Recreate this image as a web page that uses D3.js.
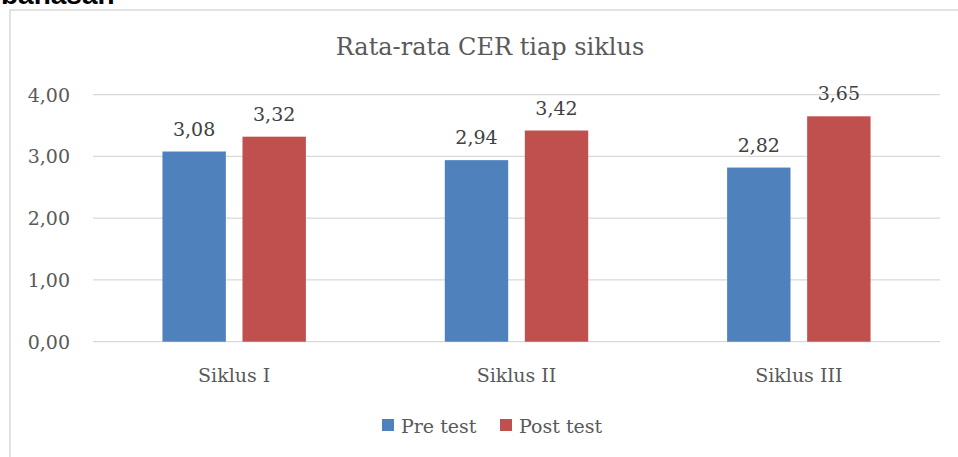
<!DOCTYPE html>
<html>
<head>
<meta charset="utf-8">
<script src="https://cdn.jsdelivr.net/npm/d3@7"></script>
<style>
  body { margin: 0; background: #fff; }
  svg { display: block; }
</style>
</head>
<body>
<div id="chart"></div>
<script>
// datos del grafico
var siklus = ["Siklus I", "Siklus II", "Siklus III"];
var seri = ["Pre test", "Post test"];
var preTest = [3.08, 2.94, 2.82];
var postTest = [3.32, 3.42, 3.65];
var yTicks = [0, 1, 2, 3, 4];
var warna = ["#4f81bd", "#c0504d"];

var W = 958, H = 457;
var plot = { left: 93, right: 940, top: 94.7, bottom: 341.7 };

var svg = d3.select("#chart").append("svg")
    .attr("width", W)
    .attr("height", H);

// texto cortado arriba
svg.append("text")
    .attr("x", 1)
    .attr("y", 4)
    .style("font-family", "Liberation Sans, Arial, sans-serif")
    .style("font-weight", "bold")
    .style("font-size", "28px")
    .attr("fill", "#000")
    .text("bahasan");

// borde del area del grafico
svg.append("path")
    .attr("d", "M10," + (H + 5) + "V10H" + (W + 5))
    .attr("fill", "none")
    .attr("stroke", "#d9d9d9")
    .attr("stroke-width", 1.5);

var y = d3.scaleLinear().domain([0, 4]).range([plot.bottom, plot.top]);

var x0 = d3.scaleBand()
    .domain(siklus)
    .range([plot.left, plot.right])
    .paddingInner(0.492)
    .paddingOuter(0.246);

var x1 = d3.scaleBand()
    .domain(seri)
    .range([0, x0.bandwidth()])
    .paddingInner(0.208);

var fmt = function(v) { return d3.format(".2f")(v).replace(".", ","); };
var fuente = "DejaVu Serif, serif";
var gris = "#595959";

// lineas horizontales
svg.selectAll("line.grid").data(yTicks).enter()
    .append("line")
    .attr("class", "grid")
    .attr("x1", plot.left)
    .attr("x2", plot.right)
    .attr("y1", d => y(d))
    .attr("y2", d => y(d))
    .attr("stroke", "#d9d9d9")
    .attr("stroke-width", 1.3);

// etiquetas eje y
svg.selectAll("text.ytick").data(yTicks).enter()
    .append("text")
    .attr("class", "ytick")
    .attr("x", 70)
    .attr("y", d => y(d) + 7)
    .attr("text-anchor", "end")
    .style("font-family", fuente)
    .style("font-size", "19px")
    .attr("fill", gris)
    .text(d => fmt(d));

// barras
var datos = siklus.map(function(s, i) {
    return { siklus: s, nilai: [
        { seri: seri[0], v: preTest[i] },
        { seri: seri[1], v: postTest[i] }
    ] };
});

var grupo = svg.selectAll("g.grupo").data(datos).enter()
    .append("g")
    .attr("class", "grupo")
    .attr("transform", d => "translate(" + x0(d.siklus) + ",0)");

grupo.selectAll("rect").data(d => d.nilai).enter()
    .append("rect")
    .attr("x", d => x1(d.seri))
    .attr("y", d => y(d.v))
    .attr("width", x1.bandwidth())
    .attr("height", d => y(0) - y(d.v))
    .attr("fill", (d, i) => warna[i]);

grupo.selectAll("text").data(d => d.nilai).enter()
    .append("text")
    .attr("x", d => x1(d.seri) + x1.bandwidth() / 2)
    .attr("y", d => y(d.v) - 16)
    .attr("text-anchor", "middle")
    .style("font-family", fuente)
    .style("font-size", "19px")
    .attr("fill", "#404040")
    .text(d => fmt(d.v));

// etiquetas eje x
svg.selectAll("text.xlab").data(siklus).enter()
    .append("text")
    .attr("class", "xlab")
    .attr("x", d => x0(d) + x0.bandwidth() / 2)
    .attr("y", plot.bottom + 40)
    .attr("text-anchor", "middle")
    .style("font-family", fuente)
    .style("font-size", "19px")
    .attr("fill", gris)
    .text(d => d);

// titulo
svg.append("text")
    .attr("x", 490)
    .attr("y", 55)
    .attr("text-anchor", "middle")
    .style("font-family", fuente)
    .style("font-size", "24px")
    .attr("fill", gris)
    .text("Rata-rata CER tiap siklus");

// leyenda
var legX = [382, 500];
var leyenda = svg.selectAll("g.ley").data(seri).enter()
    .append("g")
    .attr("class", "ley")
    .attr("transform", (d, i) => "translate(" + legX[i] + ",419)");

leyenda.append("rect")
    .attr("width", 12)
    .attr("height", 12)
    .attr("fill", (d, i) => warna[i]);

leyenda.append("text")
    .attr("x", 19)
    .attr("y", 14)
    .style("font-family", fuente)
    .style("font-size", "19px")
    .attr("fill", gris)
    .text(d => d);
</script>
</body>
</html>
